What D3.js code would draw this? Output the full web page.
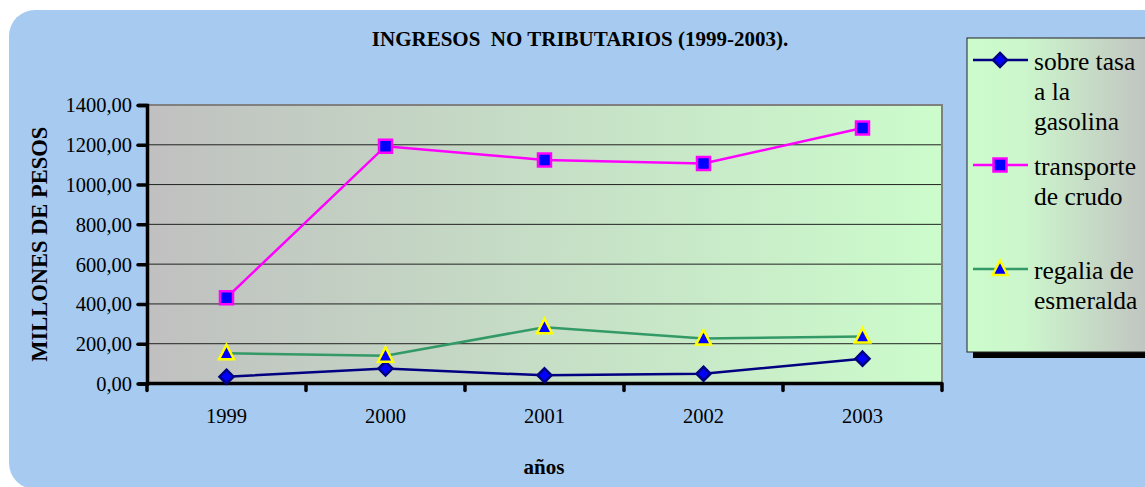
<!DOCTYPE html>
<html>
<head>
<meta charset="utf-8">
<script src="https://cdn.jsdelivr.net/npm/d3@7"></script>
<style>
  body { margin: 0; background: #fff; }
  svg { display: block; font-family: "Liberation Serif", "Times New Roman", serif; }
</style>
</head>
<body>
<div id="chart"></div>
<script>
const years = ['1999', '2000', '2001', '2002', '2003'];
const sobreTasa = [34, 75, 41, 49, 125];
const transporte = [431, 1193, 1124, 1106, 1284];
const regalia = [152, 140, 283, 226, 236];
const yTicks = [0, 200, 400, 600, 800, 1000, 1200, 1400];

const series = [
  {name: ['sobre tasa', 'a la', 'gasolina'], values: sobreTasa, line: '#000080', marker: 'diamond', stroke: '#000080', legendY: 70},
  {name: ['transporte', 'de crudo'], values: transporte, line: '#ff00ff', marker: 'square', stroke: '#ff00ff', legendY: 175},
  {name: ['regalia de', 'esmeralda'], values: regalia, line: '#339966', marker: 'triangle', stroke: '#ffff00', legendY: 279}
];

const W = 1145, H = 487;
const plot = {left: 147, top: 105, right: 942, bottom: 383.5};

const svg = d3.select('#chart').append('svg')
  .attr('width', W).attr('height', H);

const defs = svg.append('defs');
const grad = defs.append('linearGradient').attr('id', 'plotGrad');
grad.append('stop').attr('offset', '0%').attr('stop-color', '#c0c0c0');
grad.append('stop').attr('offset', '100%').attr('stop-color', '#ccfccc');
const lgrad = defs.append('linearGradient').attr('id', 'legGrad');
lgrad.append('stop').attr('offset', '0%').attr('stop-color', '#ccfccc');
lgrad.append('stop').attr('offset', '30%').attr('stop-color', '#ccf6cc');
lgrad.append('stop').attr('offset', '100%').attr('stop-color', '#c0c0c0');

// outer rounded background
svg.append('rect')
  .attr('x', 9).attr('y', 10)
  .attr('width', 1160).attr('height', 479)
  .attr('rx', 26)
  .attr('fill', '#a6caf0');

const x = d3.scaleBand().domain(years).range([plot.left, plot.right]);
const y = d3.scaleLinear().domain([0, 1400]).range([plot.bottom, plot.top]);

// plot area
svg.append('rect')
  .attr('x', plot.left).attr('y', plot.top)
  .attr('width', plot.right - plot.left).attr('height', plot.bottom - plot.top)
  .attr('fill', 'url(#plotGrad)');

// gridlines
svg.append('g')
  .selectAll('line')
  .data(yTicks.filter(d => d > 0 && d < 1400))
  .enter()
    .append('line')
      .attr('x1', plot.left).attr('x2', plot.right)
      .attr('y1', d => y(d)).attr('y2', d => y(d))
      .attr('stroke', '#222').attr('stroke-width', 1);

// plot border (top and right)
svg.append('path')
  .attr('d', `M${plot.left},${plot.top}H${plot.right}V${plot.bottom}`)
  .attr('fill', 'none')
  .attr('stroke', '#808080')
  .attr('stroke-width', 2);

// y axis
const yAxis = d3.axisLeft(y)
  .tickValues(yTicks)
  .tickSize(9)
  .tickPadding(6)
  .tickFormat(d => d3.format('.2f')(d).replace('.', ','));
const gy = svg.append('g')
  .attr('transform', `translate(${plot.left},0)`)
  .call(yAxis);
gy.select('.domain').attr('stroke', '#000').attr('stroke-width', 3.5);
gy.selectAll('.tick line').attr('stroke', '#000').attr('stroke-width', 3.5).attr('stroke-linecap', 'round');
gy.selectAll('.tick text')
  .attr('fill', '#000')
  .attr('dy', '0.34em')
  .style('font-size', '20.5px')
  .style('font-family', '"Liberation Serif", serif');

// x axis: ticks at category boundaries
const boundaries = years.map(d => x(d)).concat([plot.right]);
svg.append('line')
  .attr('x1', plot.left).attr('x2', plot.right)
  .attr('y1', plot.bottom).attr('y2', plot.bottom)
  .attr('stroke', '#000').attr('stroke-width', 3.5);
svg.append('g')
  .selectAll('line')
  .data(boundaries)
  .enter()
    .append('line')
      .attr('x1', d => d).attr('x2', d => d)
      .attr('y1', plot.bottom).attr('y2', plot.bottom + 7)
      .attr('stroke', '#000').attr('stroke-width', 3.5).attr('stroke-linecap', 'round');
svg.append('g')
  .selectAll('text')
  .data(years)
  .enter()
    .append('text')
      .attr('x', d => x(d) + x.bandwidth() / 2)
      .attr('y', 423)
      .attr('text-anchor', 'middle')
      .style('font-size', '20.5px')
      .text(d => d);

// lines + markers
const cx = d => x(d) + x.bandwidth() / 2;
const markerPath = {
  diamond: 'M0,-7L7,0L0,7L-7,0Z',
  square: 'M-6.5,-6.5H6.5V6.5H-6.5Z',
  triangle: 'M0,-8.5L7.5,6H-7.5Z'
};

series.forEach(s => {
  const line = d3.line()
    .x((v, i) => cx(years[i]))
    .y(v => y(v));
  svg.append('path')
    .datum(s.values)
    .attr('d', line)
    .attr('fill', 'none')
    .attr('stroke', s.line)
    .attr('stroke-width', 2.5);
  svg.append('g')
    .selectAll('path')
    .data(s.values)
    .enter()
      .append('path')
        .attr('transform', (v, i) => `translate(${cx(years[i])},${y(v)})`)
        .attr('d', markerPath[s.marker])
        .attr('fill', '#0000ff')
        .attr('stroke', s.stroke)
        .attr('stroke-width', 2.5);
});

// titles
svg.append('text')
  .attr('x', 580).attr('y', 46)
  .attr('text-anchor', 'middle')
  .style('font-size', '21px')
  .style('font-weight', 'bold')
  .style('white-space', 'pre')
  .attr('xml:space', 'preserve')
  .text('INGRESOS  NO TRIBUTARIOS (1999-2003).');
svg.append('text')
  .attr('x', 544).attr('y', 474)
  .attr('text-anchor', 'middle')
  .style('font-size', '21px')
  .style('font-weight', 'bold')
  .text('años');
svg.append('text')
  .attr('transform', `translate(47,${(plot.top + plot.bottom) / 2 + 0}) rotate(-90)`)
  .attr('text-anchor', 'middle')
  .style('font-size', '22.5px')
  .style('font-weight', 'bold')
  .text('MILLONES DE PESOS');

// legend
const leg = {x: 967, y: 38, w: 190, h: 314};
svg.append('rect')
  .attr('x', leg.x + 6).attr('y', leg.y + 6)
  .attr('width', leg.w).attr('height', leg.h)
  .attr('fill', '#000');
svg.append('rect')
  .attr('x', leg.x).attr('y', leg.y)
  .attr('width', leg.w).attr('height', leg.h)
  .attr('fill', 'url(#legGrad)')
  .attr('stroke', '#222').attr('stroke-width', 1);

series.forEach(s => {
  const ly = s.legendY - 10;
  svg.append('line')
    .attr('x1', 973).attr('x2', 1028)
    .attr('y1', ly).attr('y2', ly)
    .attr('stroke', s.line).attr('stroke-width', 2.5);
  svg.append('path')
    .attr('transform', `translate(1000,${ly})`)
    .attr('d', markerPath[s.marker])
    .attr('fill', '#0000ff')
    .attr('stroke', s.stroke)
    .attr('stroke-width', 2.5);
  svg.append('g')
    .selectAll('text')
    .data(s.name)
    .enter()
      .append('text')
        .attr('x', 1034)
        .attr('y', (d, i) => s.legendY + i * 30)
        .style('font-size', '25.5px')
        .text(d => d);
});
</script>
</body>
</html>
